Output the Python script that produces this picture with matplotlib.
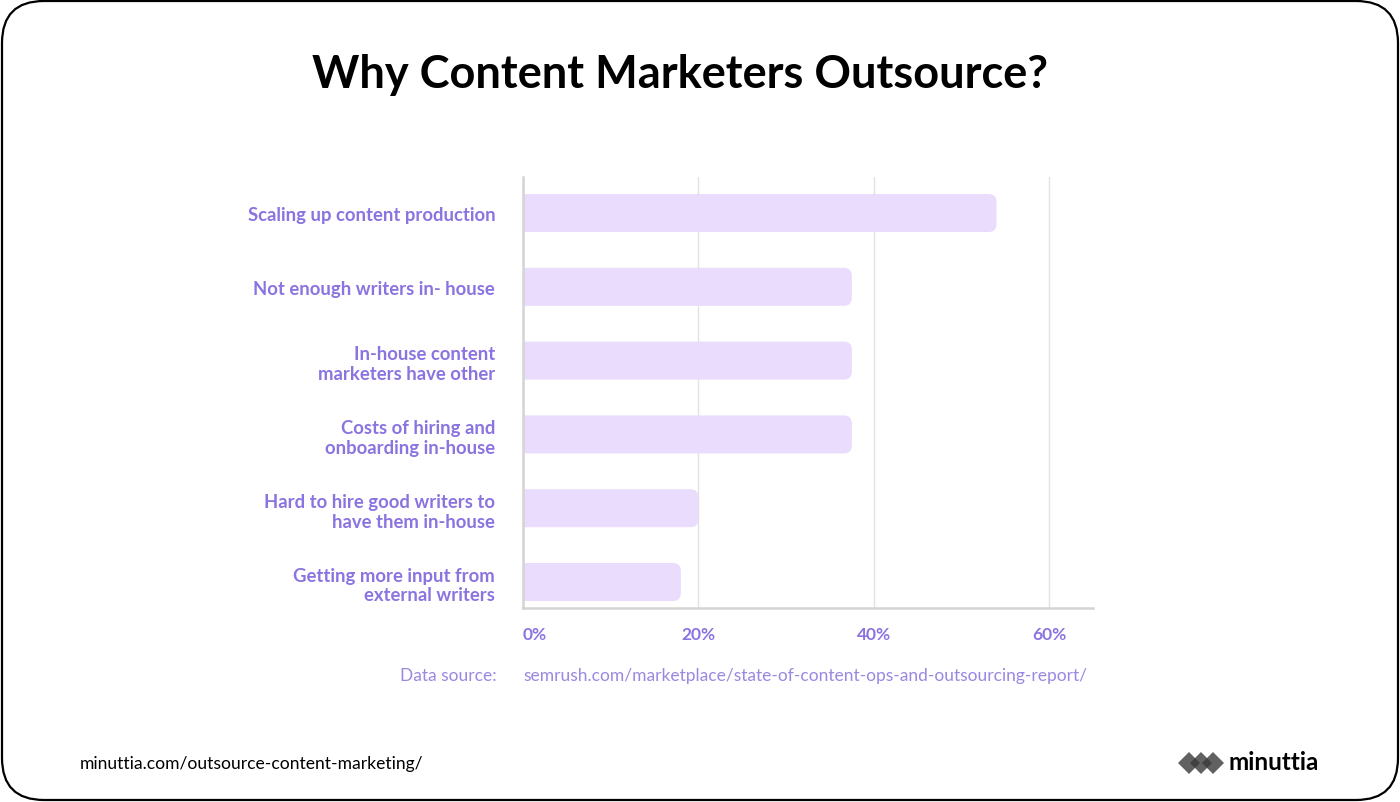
import matplotlib.pyplot as plt
from matplotlib.patches import FancyBboxPatch, Polygon

plt.rcParams['font.family'] = ['Lato', 'DejaVu Sans']

# data (share of content marketers, %)
reasons = [
    "Scaling up content production",
    "Not enough writers in- house",
    "In-house content\nmarketers have other",
    "Costs of hiring and\nonboarding in-house",
    "Hard to hire good writers to\nhave them in-house",
    "Getting more input from\nexternal writers",
]
shares = [54, 37.5, 37.5, 37.5, 20, 18]
tick_values = [0, 20, 40, 60]
tick_labels = ["0%", "20%", "40%", "60%"]

purple = "#8b73e0"
bar_color = "#e9dcfc"

W, H = 1400, 803
fig = plt.figure(figsize=(W / 100, H / 100), dpi=100)
fig.patch.set_facecolor("white")

# rounded frame around the whole card
frame = FancyBboxPatch((2 / W, 2 / H), 1 - 4 / W, 1 - 4 / H,
                       boxstyle="round,pad=0,rounding_size=%f" % (42 / W),
                       mutation_aspect=W / H, transform=fig.transFigure,
                       facecolor="none", edgecolor="black", linewidth=1.6)
fig.patches.append(frame)

fig.text(680 / W, 1 - 75 / H, "Why Content Marketers Outsource?", ha="center", va="center",
         fontsize=32.5, fontweight="bold", color="black")

ax_l, ax_r, ax_t, ax_b = 523, 1093, 178, 609
ax = fig.add_axes([ax_l / W, 1 - ax_b / H, (ax_r - ax_l) / W, (ax_b - ax_t) / H])
xmax = 65
y_top, y_bot = -0.488, 5.352
ax.set_xlim(0, xmax)
ax.set_ylim(y_bot, y_top)

bars = ax.barh(range(len(reasons)), shares, height=0.515, color=bar_color)
# swap the plain bars for ones with rounded right ends
px_x = (ax_r - ax_l) / xmax
px_y = (ax_b - ax_t) / (y_bot - y_top)
r = 8 / px_x
for b in bars:
    x, y, w, h = b.get_x(), b.get_y(), b.get_width(), b.get_height()
    b.remove()
    ax.add_patch(FancyBboxPatch((x - 2 * r, y), w + 2 * r, h,
                                boxstyle="round,pad=0,rounding_size=%f" % r,
                                mutation_aspect=px_x / px_y,
                                facecolor=bar_color, edgecolor="none", zorder=2))

ax.set_xticks(tick_values)
ax.set_xticklabels(tick_labels)
ax.xaxis.grid(True, color="#e2e2e2", linewidth=1)
ax.set_axisbelow(True)
ax.tick_params(axis="x", length=0, pad=13, labelsize=12.5, labelcolor=purple)
for t in ax.get_xticklabels():
    t.set_fontweight("bold")
ax.get_xticklabels()[0].set_ha("left")

ax.set_yticks(range(len(reasons)))
ax.set_yticklabels(reasons, fontsize=13.3, fontweight="bold", color=purple,
                   multialignment="right", linespacing=1.2)
ax.tick_params(axis="y", length=0, pad=20)

for s in ["top", "right"]:
    ax.spines[s].set_visible(False)
for s in ["left", "bottom"]:
    ax.spines[s].set_color("#d4d4d4")
    ax.spines[s].set_linewidth(1.8)

src_color = "#9a88e2"
fig.text(497 / W, 1 - 676 / H, "Data source:", ha="right", va="center",
         fontsize=12.5, color=src_color)
fig.text(523 / W, 1 - 676 / H, "semrush.com/marketplace/state-of-content-ops-and-outsourcing-report/",
         ha="left", va="center", fontsize=12.5, color=src_color)

fig.text(80 / W, 1 - 764 / H, "minuttia.com/outsource-content-marketing/", ha="left",
         va="center", fontsize=12.6, color="black")

# logo: overlapping diamonds plus the wordmark
for cx in [1189, 1201, 1213]:
    cy = 764
    d = 11
    pts = [((cx - d) / W, 1 - cy / H), (cx / W, 1 - (cy - d) / H),
           ((cx + d) / W, 1 - cy / H), (cx / W, 1 - (cy + d) / H)]
    fig.patches.append(Polygon(pts, closed=True, transform=fig.transFigure,
                               facecolor="#3a3a3a", alpha=0.8, edgecolor="none"))
fig.text(1228 / W, 1 - 763 / H, "minuttia", ha="left", va="center",
         fontsize=17.5, fontweight="bold", color="black")

fig.savefig("out.png", dpi=100, facecolor="white")
